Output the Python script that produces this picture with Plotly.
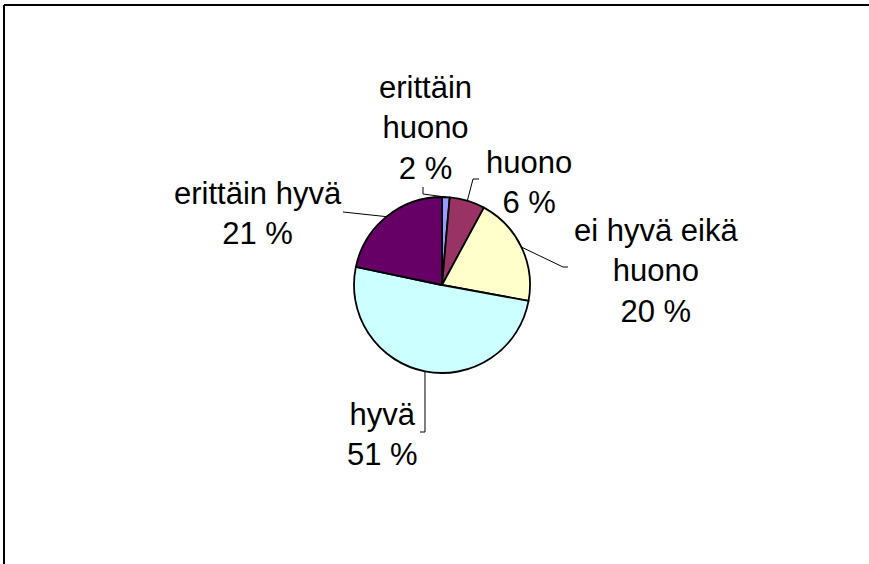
import math
import plotly.graph_objects as go

# ---- data ----
categories = ["erittäin huono", "huono", "ei hyvä eikä huono", "hyvä", "erittäin hyvä"]
values = [1.4, 6.5, 20.0, 50.4, 21.7]
pct_labels = ["2 %", "6 %", "20 %", "51 %", "21 %"]
colors = ["#9999FF", "#993366", "#FFFFCC", "#CCFFFF", "#660066"]

# ---- layout config (pixels) ----
W, H = 869, 564
CX, CY, R = 442, 285, 88
wrapped = {"erittäin huono": "erittäin<br>huono", "ei hyvä eikä huono": "ei hyvä eikä<br>huono"}
label_pos = {  # text block centre
    "erittäin huono": (425, 128),
    "huono": (529, 182),
    "ei hyvä eikä huono": (656, 271),
    "hyvä": (382, 434),
    "erittäin hyvä": (258, 213),
}
leader_elbows = {  # points after the slice edge
    "erittäin huono": [(423, 194), (423, 187)],
    "huono": [(473, 179), (479, 179)],
    "ei hyvä eikä huono": [(563, 267), (568, 267)],
    "hyvä": [(425, 432), (420, 432)],
    "erittäin hyvä": [(343, 212)],
}

fig = go.Figure()
fig.add_trace(go.Pie(
    labels=categories, values=values, sort=False, direction="clockwise", rotation=0,
    marker=dict(colors=colors, line=dict(color="black", width=1.8)),
    textinfo="none", hoverinfo="label+percent", showlegend=False,
    domain=dict(x=[(CX - R) / W, (CX + R) / W], y=[1 - (CY + R) / H, 1 - (CY - R) / H]),
))

# invisible pixel axes for leader lines / labels
fig.add_trace(go.Scatter(x=[0, W], y=[0, H], mode="markers", marker=dict(opacity=0),
                         hoverinfo="skip", showlegend=False))

total = sum(values)
cum = 0.0
for cat, v, pct in zip(categories, values, pct_labels):
    mid = (cum + v / 2) / total * 2 * math.pi
    cum += v
    ex, ey = CX + R * math.sin(mid), CY - R * math.cos(mid)
    pts = [(ex, ey)] + leader_elbows[cat]
    fig.add_trace(go.Scatter(x=[p[0] for p in pts], y=[p[1] for p in pts], mode="lines",
                             line=dict(color="black", width=1), hoverinfo="skip", showlegend=False))
    tx, ty = label_pos[cat]
    fig.add_annotation(x=tx, y=ty, xref="x", yref="y", text=wrapped.get(cat, cat) + "<br>" + pct,
                       showarrow=False, align="center", xanchor="center", yanchor="middle",
                       font=dict(family="Liberation Sans, Arial", size=31, color="black"))

# chart-area border: only top and left edges are visible in the frame
fig.add_shape(type="line", xref="x", yref="y", x0=4, x1=W + 5, y0=5, y1=5,
              line=dict(color="black", width=2), layer="above")
fig.add_shape(type="line", xref="x", yref="y", x0=4, x1=4, y0=5, y1=H + 5,
              line=dict(color="black", width=2), layer="above")

fig.update_layout(
    width=W, height=H, margin=dict(l=0, r=0, t=0, b=0),
    paper_bgcolor="white", plot_bgcolor="rgba(0,0,0,0)",
    xaxis=dict(range=[0, W], visible=False, fixedrange=True),
    yaxis=dict(range=[H, 0], visible=False, fixedrange=True),
)
fig.write_html("out.html", config={"displayModeBar": False},
               post_script="document.body.style.margin='0';document.body.style.overflow='hidden';")
